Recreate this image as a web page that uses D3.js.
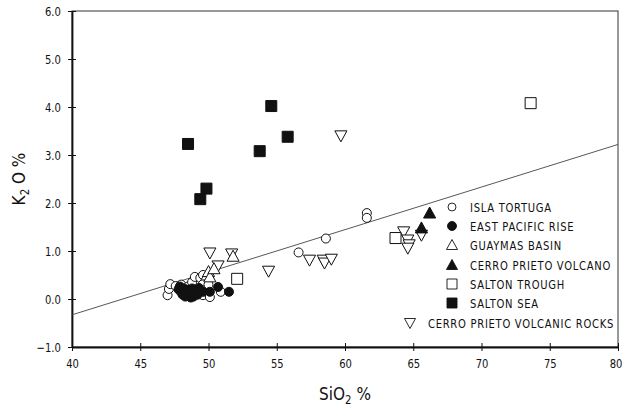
<!DOCTYPE html>
<html>
<head>
<meta charset="utf-8">
<script src="https://cdn.jsdelivr.net/npm/d3@7"></script>
<style>
  body { margin: 0; background: #fff; }
  svg { display: block; }
  text { font-family: 'DejaVu Sans', 'Liberation Sans', sans-serif; fill: #111; }
</style>
</head>
<body>
<script>
// SiO2 / K2O pairs
const islaTortuga = [
    [47.0, 0.08], [47.1, 0.21], [47.2, 0.31], [47.6, 0.27], [48.0, 0.30], [48.5, 0.26],
    [48.8, 0.35], [49.0, 0.46], [49.4, 0.44], [49.6, 0.50], [49.6, 0.31], [49.5, 0.19],
    [49.6, 0.08], [50.1, 0.04], [50.9, 0.15], [50.0, 0.30],
    [56.6, 0.97], [58.6, 1.26], [61.6, 1.79], [61.6, 1.69]
]
const eastPacificRise = [
    [47.8, 0.20], [47.9, 0.26], [48.0, 0.14], [48.2, 0.22], [48.3, 0.05], [48.4, 0.12],
    [48.5, 0.19], [48.6, 0.08], [48.7, 0.03], [48.8, 0.22], [48.9, 0.14], [49.1, 0.18],
    [49.2, 0.09], [49.3, 0.23], [49.6, 0.15], [48.1, 0.09], [48.9, 0.05], [49.4, 0.17],
    [50.1, 0.15], [50.7, 0.25], [51.5, 0.15]
]
const guaymasBasin = [
    [49.9, 0.50], [50.0, 0.57], [50.1, 0.46], [50.4, 0.63], [51.8, 0.89]
]
const cerroPrietoVolcano = [
    [66.2, 1.79], [65.6, 1.48]
]
const saltonTrough = [
    [52.1, 0.42], [63.7, 1.27], [73.6, 4.08]
]
const saltonSea = [
    [54.6, 4.02], [55.8, 3.38], [48.5, 3.23], [53.75, 3.08], [49.85, 2.30], [49.4, 2.08]
]
const cerroPrietoRocks = [
    [59.7, 3.40], [50.1, 0.96], [51.7, 0.94], [50.7, 0.69], [54.4, 0.58],
    [57.4, 0.81], [58.4, 0.81], [58.5, 0.75], [59.0, 0.83],
    [64.3, 1.40], [64.6, 1.23], [64.7, 1.13], [64.6, 1.06], [65.6, 1.33]
]
// regression line end points
const trendLine = [[40, -0.33], [80, 3.22]]

const xTicks = [40, 45, 50, 55, 60, 65, 70, 75, 80]
const yTicks = [-1, 0, 1, 2, 3, 4, 5, 6]

const series = [
    { name: 'ISLA TORTUGA', data: islaTortuga, shape: 'circle', filled: false },
    { name: 'EAST PACIFIC RISE', data: eastPacificRise, shape: 'circle', filled: true },
    { name: 'GUAYMAS BASIN', data: guaymasBasin, shape: 'up', filled: false },
    { name: 'CERRO PRIETO VOLCANO', data: cerroPrietoVolcano, shape: 'up', filled: true },
    { name: 'SALTON TROUGH', data: saltonTrough, shape: 'square', filled: false },
    { name: 'SALTON SEA', data: saltonSea, shape: 'square', filled: true },
    { name: 'CERRO PRIETO VOLCANIC ROCKS', data: cerroPrietoRocks, shape: 'down', filled: false }
]

const width = 623
const height = 410
const margin = { top: 11, right: 5, bottom: 63, left: 72 }
const narrow = 0.8 // the scan's lettering is a condensed face

const svg = d3.select('body')
    .append('svg')
    .attr('width', width)
    .attr('height', height)

const x = d3.scaleLinear().domain([40, 80]).range([margin.left, width - margin.right])
const y = d3.scaleLinear().domain([-1, 6]).range([height - margin.bottom, margin.top])

// frame
svg.append('rect')
    .attr('x', x(40))
    .attr('y', y(6))
    .attr('width', x(80) - x(40))
    .attr('height', y(-1) - y(6))
    .attr('fill', 'none')
    .attr('stroke', '#333')
    .attr('stroke-width', 1)

// axes
const xAxis = d3.axisBottom(x)
    .tickValues(xTicks)
    .tickSizeInner(4)
    .tickSizeOuter(0)
    .tickPadding(8)
    .tickFormat(d3.format('d'))
const yAxis = d3.axisLeft(y)
    .tickValues(yTicks)
    .tickSizeInner(4)
    .tickSizeOuter(0)
    .tickPadding(10)
    .tickFormat(d => d < 0 ? '\u2212' + Math.abs(d).toFixed(1) : d.toFixed(1))

const gx = svg.append('g')
    .attr('transform', `translate(0,${y(-1)})`)
    .call(xAxis)
const gy = svg.append('g')
    .attr('transform', `translate(${x(40)},0)`)
    .call(yAxis)

for (const g of [gx, gy]) {
    g.select('.domain').attr('stroke', '#111').attr('stroke-width', 1.8)
    g.selectAll('.tick line').attr('stroke', '#111').attr('stroke-width', 1)
    g.selectAll('.tick text')
        .attr('font-size', 12.5)
        .attr('fill', '#111')
        .attr('font-family', "'DejaVu Sans', sans-serif")
        .attr('transform', `scale(${narrow},1)`)
}
// ticks cross the axis line
gx.selectAll('.tick line').attr('y1', -4)
gy.selectAll('.tick line').attr('x1', 4)
// keep the last label inside the page
gx.selectAll('.tick text').filter(d => d === 80).attr('dx', -3)

// axis titles
svg.append('text')
    .attr('transform', `translate(${(x(40) + x(80)) / 2},400) scale(${narrow + 0.05},1)`)
    .attr('text-anchor', 'middle')
    .attr('font-size', 18)
    .html('SiO<tspan font-size="12" dy="4">2</tspan><tspan dy="-4"> %</tspan>')

svg.append('text')
    .attr('transform', `translate(25,${(y(6) + y(-1)) / 2}) rotate(-90) scale(${narrow + 0.05},1)`)
    .attr('text-anchor', 'middle')
    .attr('font-size', 18)
    .html('K<tspan font-size="12" dy="4">2</tspan><tspan dy="-4"> O  %</tspan>')

// trend line
svg.append('line')
    .attr('x1', x(trendLine[0][0]))
    .attr('y1', y(trendLine[0][1]))
    .attr('x2', x(trendLine[1][0]))
    .attr('y2', y(trendLine[1][1]))
    .attr('stroke', '#444')
    .attr('stroke-width', 0.9)

const symbolPath = {
    circle: s => d3.symbol(d3.symbolCircle, s * s * 0.785)(),
    square: s => d3.symbol(d3.symbolSquare, s * s)(),
    up: s => `M0,${-s * 0.55}L${s * 0.55},${s * 0.45}L${-s * 0.55},${s * 0.45}Z`,
    down: s => `M0,${s * 0.55}L${s * 0.55},${-s * 0.45}L${-s * 0.55},${-s * 0.45}Z`
}
const sizeOf = { circle: 9, square: 11, up: 11, down: 11 }

function drawMarks(g, s, points, size) {
    g.selectAll(null)
        .data(points)
        .enter()
        .append('path')
        .attr('transform', d => `translate(${x(d[0])},${y(d[1])})`)
        .attr('d', symbolPath[s.shape](size))
        .attr('fill', s.filled ? '#111' : '#fff')
        .attr('stroke', '#111')
        .attr('stroke-width', 1)
}

const marks = svg.append('g')
// open symbols first, filled ones on top
const order = [6, 0, 2, 4, 1, 3, 5]
order.forEach(i => {
    const s = series[i]
    drawMarks(marks.append('g'), s, s.data, sizeOf[s.shape])
})

// legend
const legendRows = [207, 226, 245, 265, 284, 303, 323]
const legend = svg.append('g')
series.forEach((s, i) => {
    const last = i === series.length - 1
    const sx = last ? 410 : 452
    const tx = last ? 428 : 470
    const size = s.shape === 'circle' ? (s.filled ? 9 : 8) : 10
    legend.append('path')
        .attr('transform', `translate(${sx},${legendRows[i]})`)
        .attr('d', symbolPath[s.shape](size))
        .attr('fill', s.filled ? '#111' : '#fff')
        .attr('stroke', '#111')
        .attr('stroke-width', 0.9)
    legend.append('text')
        .attr('transform', `translate(${tx},${legendRows[i] + 5}) scale(${narrow},1)`)
        .attr('font-size', 12.5)
        .attr('letter-spacing', 0.9)
        .text(s.name)
})
</script>
</body>
</html>
